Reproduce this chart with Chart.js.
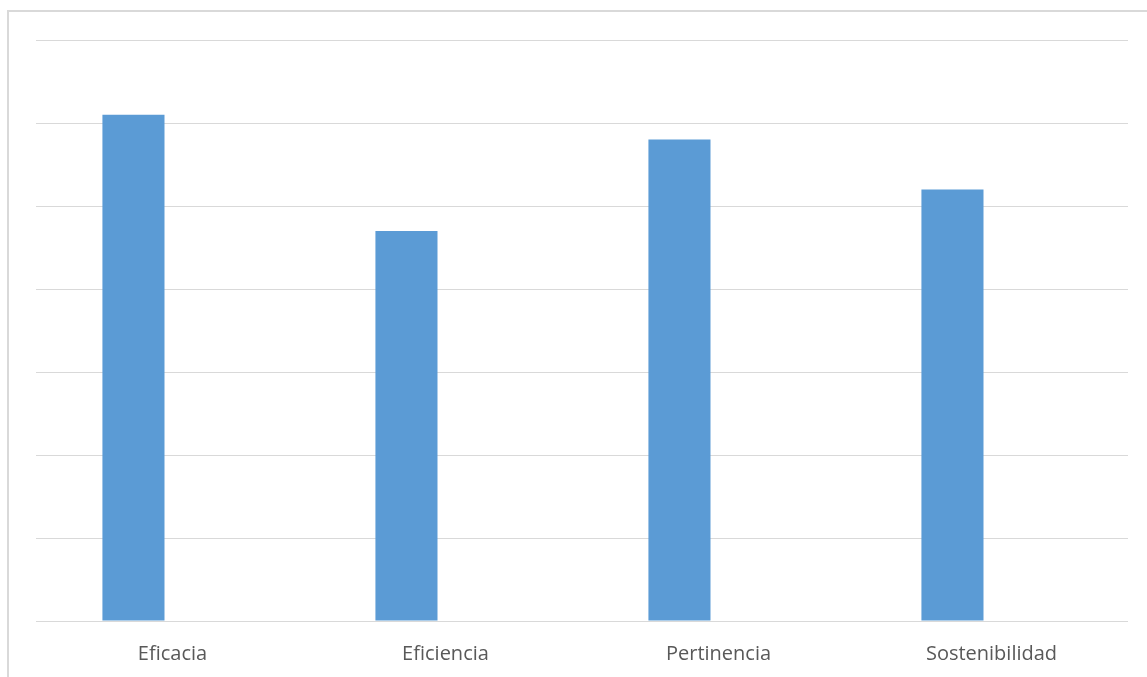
<!DOCTYPE html>
<html>
<head>
<meta charset="utf-8">
<script src="https://cdn.jsdelivr.net/npm/chart.js@4/dist/chart.umd.min.js"></script>
<style>
  html, body { margin: 0; padding: 0; background: #fff; overflow: hidden; }
  #marco { position: absolute; left: 7px; top: 10px; width: 1200px; height: 720px; border: 2px solid #d9d9d9; }
  #wrap { position: absolute; left: 0; top: 0; width: 1147px; height: 677px; }
</style>
</head>
<body>
<div id="marco"></div>
<div id="wrap"><canvas id="grafico"></canvas></div>
<script>
const categorias = ['Eficacia', 'Eficiencia', 'Pertinencia', 'Sostenibilidad'];
const valores = [6.1, 4.7, 5.8, 5.2];
const vacio = [null, null, null, null];

const ctx = document.getElementById('grafico').getContext('2d');

new Chart(ctx, {
  type: 'bar',
  data: {
    labels: categorias,
    datasets: [
      { label: 'Serie 1', data: valores, backgroundColor: '#5b9bd5', borderWidth: 0 },
      { label: 'Serie 2', data: vacio, backgroundColor: '#ed7d31', borderWidth: 0 }
    ]
  },
  options: {
    responsive: true,
    maintainAspectRatio: false,
    animation: false,
    categoryPercentage: 0.572,
    barPercentage: 0.795,
    layout: { padding: { left: 36, right: 19, top: 40, bottom: 0 } },
    plugins: {
      legend: { display: false },
      tooltip: { enabled: false }
    },
    scales: {
      x: {
        grid: { display: false },
        border: { display: false },
        ticks: {
          color: '#595959',
          padding: 13,
          font: { family: 'Open Sans', size: 20 }
        },
        afterFit: s => { s.height = 56; }
      },
      y: {
        min: 0,
        max: 7,
        ticks: { stepSize: 1, display: false },
        grid: { color: '#d9d9d9', lineWidth: 1, drawTicks: false },
        border: { display: false },
        afterFit: s => { s.width = 0; }
      }
    }
  }
});
</script>
</body>
</html>
